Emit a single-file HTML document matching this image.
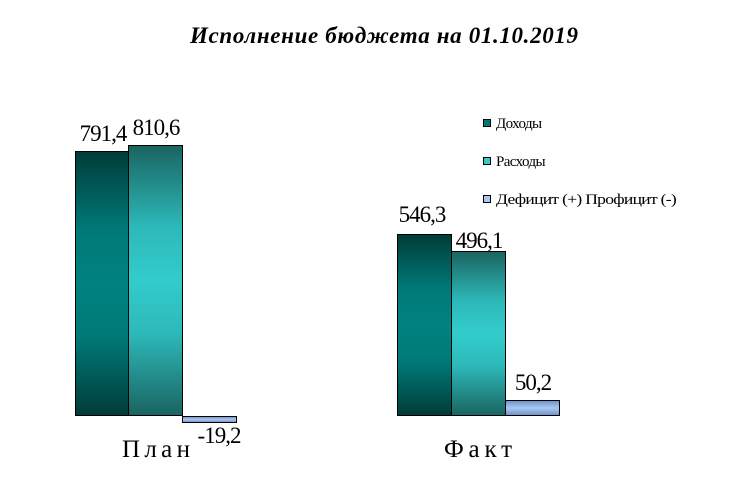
<!DOCTYPE html>
<html><head><meta charset="utf-8"><style>body{margin:0;background:#fff}</style></head><body>
<svg width="741" height="481" xmlns="http://www.w3.org/2000/svg" style="display:block">
<defs>
<linearGradient id="g1" x1="0" y1="0" x2="0" y2="1"><stop offset="0" stop-color="#003c38"/><stop offset="0.3" stop-color="#007a78"/><stop offset="0.5" stop-color="#008280"/><stop offset="0.7" stop-color="#007a78"/><stop offset="1" stop-color="#003c38"/></linearGradient>
<linearGradient id="g2" x1="0" y1="0" x2="0" y2="1"><stop offset="0" stop-color="#1a6460"/><stop offset="0.3" stop-color="#2db8b8"/><stop offset="0.5" stop-color="#33cccc"/><stop offset="0.7" stop-color="#2db8b8"/><stop offset="1" stop-color="#1a6460"/></linearGradient>
<linearGradient id="g3" x1="0" y1="0" x2="0" y2="1"><stop offset="0" stop-color="#6f8fc8"/><stop offset="0.5" stop-color="#a8c8f0"/><stop offset="1" stop-color="#6f8fc8"/></linearGradient>
</defs>
<text x="384" y="43" text-anchor="middle" font-family="Liberation Serif,serif" font-size="23" font-weight="bold" font-style="italic" textLength="388">Исполнение бюджета на 01.10.2019</text>
<g stroke="#000" stroke-width="1">
<rect x="75.5" y="151.5" width="53" height="264" fill="url(#g1)"/>
<rect x="128.5" y="145.5" width="54" height="270" fill="url(#g2)"/>
<rect x="182.5" y="416.5" width="54" height="6" fill="url(#g3)"/>
<rect x="397.5" y="234.5" width="54" height="181" fill="url(#g1)"/>
<rect x="451.5" y="251.5" width="54" height="164" fill="url(#g2)"/>
<rect x="505.5" y="400.5" width="54" height="15" fill="url(#g3)"/>
<rect x="483.5" y="119.5" width="7" height="7" fill="#007a78"/>
<rect x="483.5" y="157.5" width="7" height="7" fill="#33cccc"/>
<rect x="483.5" y="195.5" width="7" height="7" fill="#a8c8f0"/>
</g>
<g font-family="Liberation Serif,serif" font-size="23" fill="#000" letter-spacing="-1">
<text x="103" y="141" text-anchor="middle">791,4</text>
<text x="156" y="135" text-anchor="middle">810,6</text>
<text x="219" y="443" text-anchor="middle">-19,2</text>
<text x="422" y="222" text-anchor="middle">546,3</text>
<text x="479" y="248" text-anchor="middle">496,1</text>
<text x="533" y="390" text-anchor="middle">50,2</text>
</g>
<g font-family="Liberation Serif,serif" font-size="25" fill="#000">
<text x="122" y="457" textLength="68" lengthAdjust="spacing">План</text>
<text x="444" y="457" textLength="68" lengthAdjust="spacing">Факт</text>
</g>
<g font-family="Liberation Serif,serif" font-size="15" fill="#000" letter-spacing="-0.6">
<text x="496" y="128">Доходы</text>
<text x="496" y="166">Расходы</text>
<text x="496" y="204" textLength="180" lengthAdjust="spacingAndGlyphs">Дефицит (+) Профицит (-)</text>
</g>
</svg>
</body></html>
